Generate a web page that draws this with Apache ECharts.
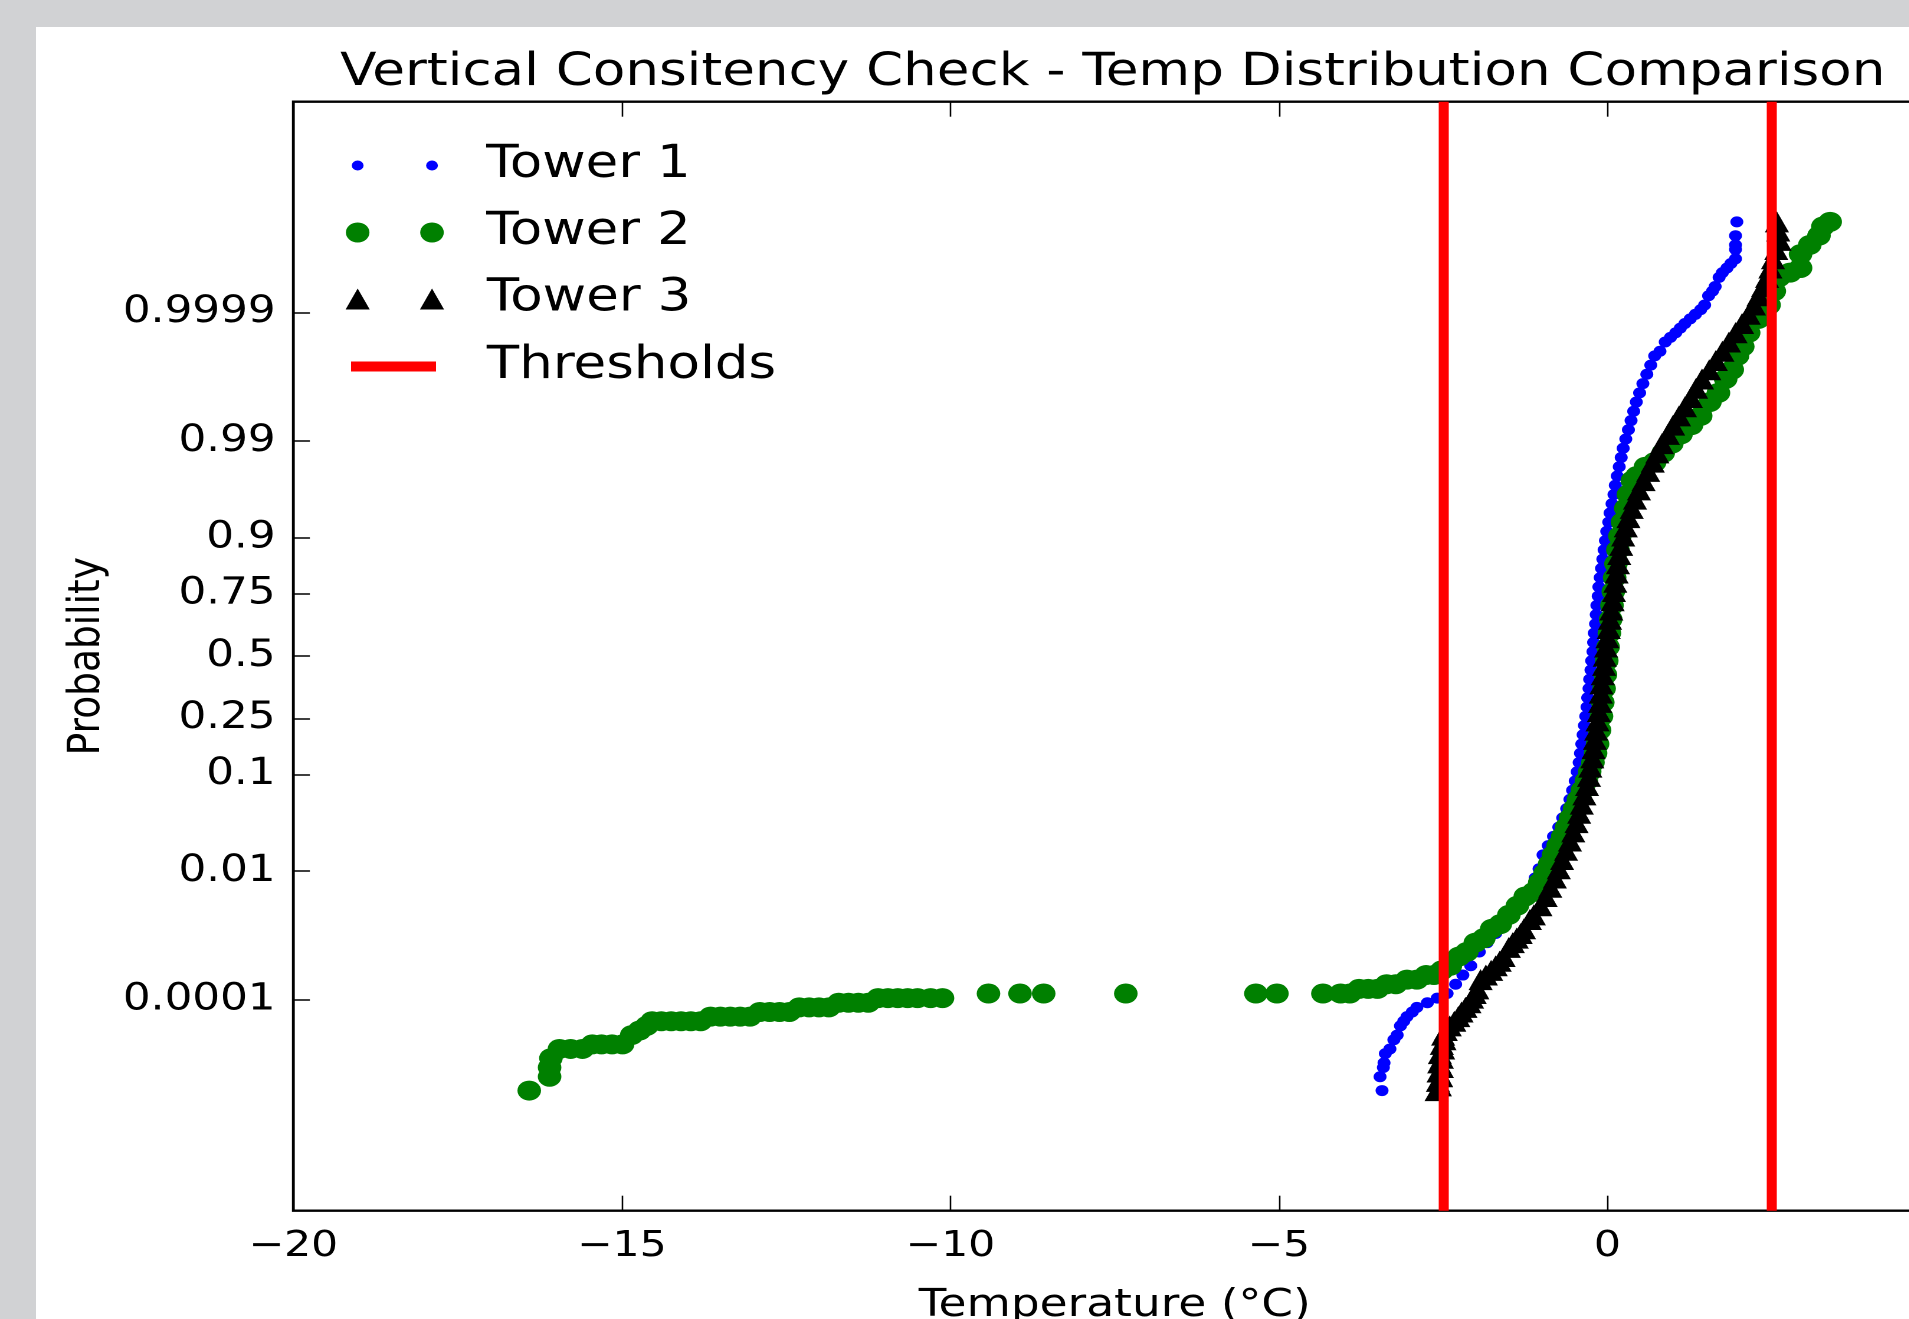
<!DOCTYPE html>
<html><head><meta charset="utf-8">
<script src="https://cdn.jsdelivr.net/npm/echarts@6/dist/echarts.min.js"></script>
<style>
html,body{margin:0;padding:0;background:#d1d2d4;overflow:hidden;width:1909px;height:1319px;}
#chart{position:absolute;left:0;top:0;width:1618px;height:1319px;transform:scaleX(1.18);transform-origin:0 0;}
</style></head><body><div id="chart"></div>
<script>
// ---------------- data (temperature in °C, cumulative probability) ----------------
const tower1Temp = [-3.43,-3.46,-3.41,-3.40,-3.38,-3.31,-3.25,-3.20,-3.15,-3.10,-3.05,-2.97,-2.90,-2.74,-2.59,-2.44,-2.31,-2.20,-2.08,-1.95,-1.83,-1.70,-1.58,-1.46,-1.34,-1.22,-1.10,-1.04,-0.98,-0.90,-0.82,-0.74,-0.68,-0.62,-0.57,-0.53,-0.49,-0.46,-0.43,-0.41,-0.39,-0.37,-0.35,-0.33,-0.31,-0.30,-0.28,-0.27,-0.25,-0.24,-0.22,-0.21,-0.20,-0.18,-0.17,-0.16,-0.14,-0.13,-0.11,-0.09,-0.07,-0.05,-0.03,-0.01,0.02,0.04,0.07,0.10,0.12,0.15,0.18,0.21,0.24,0.28,0.32,0.36,0.40,0.44,0.49,0.54,0.60,0.66,0.72,0.80,0.88,0.96,1.04,1.11,1.18,1.26,1.34,1.42,1.48,1.54,1.60,1.64,1.70,1.75,1.82,1.88,1.95,1.95,1.95,1.95,1.97];
const tower1Prob = [0.0000013,0.00000268,0.00000429,0.00000541,0.00000854,0.0000107,0.0000166,0.0000207,0.0000317,0.0000391,0.0000481,0.0000591,0.0000723,0.0000884,0.000108,0.000131,0.000193,0.00028,0.000404,0.000687,0.000968,0.00135,0.00187,0.00256,0.00347,0.00539,0.0082,0.01072,0.01578,0.02018,0.0256,0.0322,0.0401,0.0495,0.0606,0.0735,0.0885,0.1056,0.1251,0.1469,0.1711,0.1977,0.2266,0.2578,0.2912,0.3264,0.3632,0.4013,0.4404,0.4801,0.5199,0.5596,0.5987,0.6368,0.6736,0.7088,0.7422,0.7734,0.8023,0.8289,0.8531,0.8749,0.8944,0.9115,0.9265,0.9394,0.9505,0.9599,0.9678,0.9744,0.97982,0.98422,0.98778,0.99061,0.99286,0.99461,0.99598,0.99702,0.99781,0.99841,0.99886,0.999184,0.999423,0.999517,0.999663,0.99972,0.999767,0.999807,0.999841,0.999869,0.999892,0.9999116,0.9999277,0.9999519,0.9999609,0.9999683,0.9999793,0.9999834,0.9999867,0.9999893,0.99999146,0.99999459,0.99999571,0.99999732,0.9999987];

const tower2Temp = [-16.41,-16.10,-16.10,-16.08,-15.95,-15.78,-15.60,-15.45,-15.31,-15.15,-14.99,-14.85,-14.73,-14.62,-14.54,-14.40,-14.25,-14.10,-13.95,-13.80,-13.65,-13.50,-13.35,-13.20,-13.05,-12.90,-12.75,-12.60,-12.45,-12.30,-12.15,-12.00,-11.85,-11.70,-11.55,-11.40,-11.25,-11.10,-10.95,-10.80,-10.65,-10.50,-10.30,-10.12,-9.42,-8.94,-8.58,-7.33,-5.35,-5.03,-4.33,-4.06,-3.92,-3.78,-3.64,-3.50,-3.36,-3.22,-3.05,-2.90,-2.76,-2.64,-2.52,-2.39,-2.26,-2.14,-2.01,-1.88,-1.76,-1.63,-1.50,-1.37,-1.25,-1.12,-1.03,-0.95,-0.88,-0.82,-0.75,-0.68,-0.62,-0.56,-0.50,-0.44,-0.38,-0.32,-0.27,-0.22,-0.18,-0.15,-0.12,-0.09,-0.07,-0.05,-0.03,-0.01,0.01,0.03,0.05,0.07,0.09,0.11,0.13,0.16,0.19,0.23,0.28,0.32,0.38,0.45,0.58,0.72,0.85,0.98,1.12,1.28,1.42,1.56,1.69,1.80,1.90,1.98,2.06,2.15,2.30,2.46,2.54,2.61,2.78,2.94,2.94,3.08,3.22,3.28,3.39];
const tower2Prob = [0.0000013,0.00000268,0.00000429,0.0000068,0.0000107,0.0000107,0.0000107,0.0000133,0.0000133,0.0000133,0.0000133,0.0000207,0.0000256,0.0000317,0.0000391,0.0000391,0.0000391,0.0000391,0.0000391,0.0000391,0.0000481,0.0000481,0.0000481,0.0000481,0.0000481,0.0000591,0.0000591,0.0000591,0.0000591,0.0000723,0.0000723,0.0000723,0.0000723,0.0000884,0.0000884,0.0000884,0.0000884,0.000108,0.000108,0.000108,0.000108,0.000108,0.000108,0.000108,0.000131,0.000131,0.000131,0.000131,0.000131,0.000131,0.000131,0.000131,0.000131,0.000159,0.000159,0.000159,0.000193,0.000193,0.000233,0.000233,0.00028,0.00028,0.000337,0.000404,0.000577,0.000687,0.000968,0.00114,0.00159,0.00187,0.00256,0.00347,0.00466,0.00539,0.00714,0.00939,0.01222,0.01578,0.02018,0.0256,0.0322,0.0401,0.0495,0.0606,0.0735,0.0885,0.1056,0.1251,0.1469,0.1711,0.2119,0.2578,0.3085,0.3632,0.4207,0.4801,0.5398,0.5987,0.6554,0.7088,0.758,0.8023,0.8413,0.8749,0.9032,0.9265,0.9452,0.9599,0.9713,0.9744,0.97982,0.98214,0.9861,0.98928,0.9918,0.99379,0.99534,0.99702,0.99781,0.99865,0.999032,0.999423,0.999596,0.999767,0.999869,0.9999277,0.9999609,0.9999793,0.9999834,0.9999867,0.9999932,0.99999571,0.99999732,0.99999834,0.9999987];

const tower3Temp = [-2.60,-2.55,-2.58,-2.53,-2.57,-2.52,-2.56,-2.52,-2.55,-2.50,-2.52,-2.48,-2.50,-2.46,-2.40,-2.33,-2.27,-2.22,-2.16,-2.10,-2.06,-2.02,-1.98,-1.93,-1.85,-1.77,-1.70,-1.64,-1.58,-1.50,-1.44,-1.38,-1.32,-1.27,-1.18,-1.12,-1.02,-0.94,-0.87,-0.80,-0.74,-0.69,-0.63,-0.57,-0.52,-0.47,-0.43,-0.39,-0.35,-0.31,-0.28,-0.26,-0.23,-0.21,-0.19,-0.17,-0.15,-0.13,-0.11,-0.10,-0.09,-0.07,-0.05,-0.04,-0.02,0.00,0.02,0.04,0.06,0.08,0.10,0.12,0.14,0.16,0.18,0.21,0.24,0.28,0.32,0.37,0.42,0.48,0.55,0.62,0.69,0.76,0.83,0.92,1.00,1.09,1.18,1.27,1.35,1.44,1.55,1.65,1.75,1.85,1.95,2.05,2.15,2.23,2.30,2.37,2.43,2.48,2.52,2.57,2.62,2.60,2.58];
const tower3Prob = [0.0000013,0.00000166,0.00000211,0.00000268,0.0000034,0.00000429,0.00000541,0.0000068,0.00000854,0.0000107,0.0000133,0.0000166,0.0000207,0.0000256,0.0000317,0.0000391,0.0000481,0.0000591,0.0000723,0.0000884,0.000108,0.000131,0.000159,0.000233,0.00028,0.000337,0.000404,0.000483,0.000577,0.000816,0.000968,0.00114,0.00135,0.00159,0.00219,0.00256,0.00347,0.00466,0.00621,0.0082,0.01072,0.0139,0.01786,0.02275,0.0287,0.0359,0.0446,0.0548,0.0668,0.0808,0.0968,0.1151,0.1357,0.1587,0.1841,0.2119,0.242,0.2743,0.3085,0.3446,0.3821,0.4207,0.4602,0.5,0.5398,0.5793,0.6179,0.6554,0.6915,0.7257,0.758,0.7881,0.8159,0.8413,0.8643,0.8849,0.9032,0.9192,0.9332,0.9452,0.9554,0.9641,0.9713,0.97725,0.98214,0.9861,0.98928,0.9918,0.99379,0.99534,0.99653,0.99744,0.99813,0.99865,0.999032,0.999313,0.999517,0.999663,0.999767,0.999841,0.999892,0.9999277,0.9999519,0.9999683,0.9999793,0.9999867,0.99999146,0.99999459,0.9999966,0.99999789,0.9999987];

const thresholds = [-2.5, 2.5];
const probTicks = [0.0001, 0.01, 0.1, 0.25, 0.5, 0.75, 0.9, 0.99, 0.9999];
const probTickLabels = ['0.0001', '0.01', '0.1', '0.25', '0.5', '0.75', '0.9', '0.99', '0.9999'];
const xTicks = [-20, -15, -10, -5, 0, 5];
const seriesNames = ['Tower 1', 'Tower 2', 'Tower 3', 'Thresholds'];
const chartTitle = 'Vertical Consitency Check - Temp Distribution Comparison';

// ---------------- normal probability scale (probit) ----------------
function probit(p) {
  const a = [-3.969683028665376e+01, 2.209460984245205e+02, -2.759285104469687e+02, 1.383577518672690e+02, -3.066479806614716e+01, 2.506628277459239e+00];
  const b = [-5.447609879822406e+01, 1.615858368580409e+02, -1.556989798598866e+02, 6.680131188771972e+01, -1.328068155288572e+01];
  const c = [-7.784894002430293e-03, -3.223964580411365e-01, -2.400758277161838e+00, -2.549671664348581e+00, 4.374664141464968e+00, 2.938163982698783e+00];
  const d = [7.784695709041462e-03, 3.224671290700398e-01, 2.445134137142996e+00, 3.754408661907416e+00];
  const pl = 0.02425, ph = 1 - pl;
  let q, r;
  if (p < pl) {
    q = Math.sqrt(-2 * Math.log(p));
    return (((((c[0]*q+c[1])*q+c[2])*q+c[3])*q+c[4])*q+c[5]) / ((((d[0]*q+d[1])*q+d[2])*q+d[3])*q+1);
  }
  if (p > ph) {
    q = Math.sqrt(-2 * Math.log(1 - p));
    return -(((((c[0]*q+c[1])*q+c[2])*q+c[3])*q+c[4])*q+c[5]) / ((((d[0]*q+d[1])*q+d[2])*q+d[3])*q+1);
  }
  q = p - 0.5; r = q * q;
  return (((((a[0]*r+a[1])*r+a[2])*r+a[3])*r+a[4])*r+a[5])*q / (((((b[0]*r+b[1])*r+b[2])*r+b[3])*r+b[4])*r+1);
}
function toPoints(temps, probs) {
  const n = Math.min(temps.length, probs.length);
  const out = [];
  for (let i = 0; i < n; i++) out.push([temps[i], probit(probs[i])]);
  return out;
}
const tickZ = probTicks.map(probit);

const FONT = 'DejaVu Sans';
const chart = echarts.init(document.getElementById('chart'), null, {renderer: 'canvas', devicePixelRatio: 2});

const legendBase = {
  orient: 'horizontal', padding: 0, selectedMode: false,
  textStyle: {fontFamily: FONT, fontSize: 45, color: '#000'}
};
function legendFor(name, left, top, w, h, icon, padLeft) {
  return Object.assign({}, legendBase, {
    data: [name], left: left, top: top, itemWidth: w, itemHeight: h, icon: icon,
    textStyle: Object.assign({}, legendBase.textStyle, {padding: [0, 0, 0, padLeft]})
  });
}
const twoDots = r => 'path://M0,' + r + 'a' + r + ',' + r + ' 0 1,0 ' + (2*r) + ',0a' + r + ',' + r + ' 0 1,0 ' + (-2*r) + ',0' +
  'M63,' + r + 'a' + r + ',' + r + ' 0 1,0 ' + (2*r) + ',0a' + r + ',' + r + ' 0 1,0 ' + (-2*r) + ',0';
const twoTriangles = 'path://M0,21L10.25,0L20.5,21Z M63,21L73.25,0L83.5,21Z';

const option = {
  animation: false,
  backgroundColor: 'transparent',
  graphic: [{
    type: 'rect', z: -100, silent: true,
    shape: {x: 30.5, y: 27, width: 1700, height: 1400},
    style: {fill: '#ffffff'}
  }],
  title: {
    text: chartTitle, left: 943, top: 51, textAlign: 'center', padding: 0,
    textStyle: {fontFamily: FONT, fontSize: 45, fontWeight: 'normal', color: '#000'}
  },
  legend: [
    legendFor(seriesNames[0], 298.1, 143, 73, 10, twoDots(5), 36),
    legendFor(seriesNames[1], 293.1, 210, 83, 20, twoDots(10), 31),
    legendFor(seriesNames[2], 292.85, 276.5, 83.5, 21, twoTriangles, 31.2),
    legendFor(seriesNames[3], 297.5, 344, 72, 10, 'rect', 38)
  ],
  grid: {
    left: 248.6, top: 101.7, width: 1392, height: 1109,
    outerBoundsMode: 'none',
    show: true, borderColor: '#000', borderWidth: 2.4, backgroundColor: 'transparent', containLabel: false
  },
  xAxis: [{
    type: 'value', min: -20, max: 5, interval: 5, position: 'bottom',
    name: 'Temperature (\u00B0C)', nameLocation: 'middle', nameGap: 76,
    nameTextStyle: {fontFamily: FONT, fontSize: 38.5, color: '#000'},
    axisLine: {show: false, onZero: false},
    axisTick: {show: true, inside: true, length: 15, lineStyle: {color: '#000', width: 1.3}},
    axisLabel: {fontFamily: FONT, fontSize: 36, color: '#000', margin: 18,
      formatter: v => (v < 0 ? '\u2212' + Math.abs(v) : String(v))},
    splitLine: {show: false}
  }, {
    type: 'value', min: -20, max: 5, interval: 5, position: 'top',
    axisLine: {show: false, onZero: false},
    axisTick: {show: true, inside: true, length: 15, lineStyle: {color: '#000', width: 1.3}},
    axisLabel: {show: false}, splitLine: {show: false}
  }],
  yAxis: [{
    type: 'value', min: -6, max: 6, position: 'left',
    name: 'Probability', nameLocation: 'middle', nameGap: 155,
    nameTextStyle: {fontFamily: FONT, fontSize: 37.5, color: '#000'},
    axisLine: {show: false, onZero: false},
    axisTick: {show: true, inside: true, length: 14, customValues: tickZ, lineStyle: {color: '#000', width: 1.5}},
    axisLabel: {fontFamily: FONT, fontSize: 37, color: '#000', margin: 15, customValues: tickZ,
      formatter: v => {
        let best = 0;
        for (let i = 1; i < tickZ.length; i++) if (Math.abs(tickZ[i] - v) < Math.abs(tickZ[best] - v)) best = i;
        return probTickLabels[best];
      }},
    splitLine: {show: false}
  }],
  series: [{
    name: seriesNames[0], type: 'scatter', symbol: 'circle', symbolSize: 11, silent: true,
    itemStyle: {color: '#0000ff', opacity: 1}, data: toPoints(tower1Temp, tower1Prob), z: 2
  }, {
    name: seriesNames[1], type: 'scatter', symbol: 'circle', symbolSize: 20, silent: true,
    itemStyle: {color: '#008000', opacity: 1}, data: toPoints(tower2Temp, tower2Prob), z: 3
  }, {
    name: seriesNames[2], type: 'scatter', symbol: 'triangle', symbolSize: [20.5, 21], silent: true,
    itemStyle: {color: '#000000', opacity: 1}, data: toPoints(tower3Temp, tower3Prob), z: 4
  }, {
    name: seriesNames[3], type: 'line', data: [], color: '#ff0000', silent: true, z: 5,
    itemStyle: {color: '#ff0000'}, lineStyle: {color: '#ff0000', width: 8.5},
    markLine: {
      silent: true, symbol: ['none', 'none'], label: {show: false}, z: 5,
      lineStyle: {color: '#ff0000', width: 8.5, type: 'solid', opacity: 1},
      emphasis: {disabled: true},
      data: thresholds.map(v => ({xAxis: v}))
    }
  }]
};
chart.setOption(option);
</script></body></html>
